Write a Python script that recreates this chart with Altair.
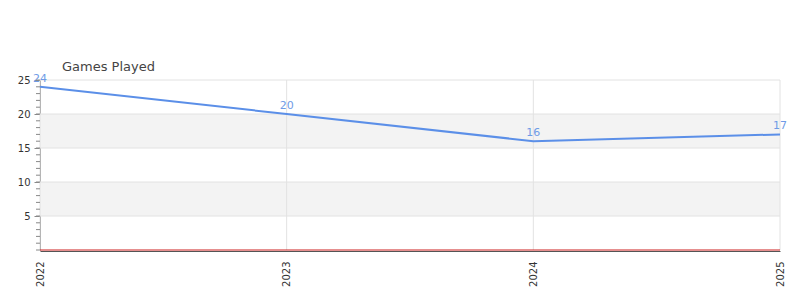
import altair as alt
import pandas as pd

years = [2022, 2023, 2024, 2025]
games = [24, 20, 16, 17]
band_lo = [5, 15]
band_hi = [10, 20]
major_ticks = [5, 10, 15, 20, 25]
minor_ticks = list(range(0, 26))

df = pd.DataFrame({"year": years, "games": games})
bands = pd.DataFrame({"lo": band_lo, "hi": band_hi})
zero = pd.DataFrame({"z": [0]})
minor = pd.DataFrame({"v": minor_ticks})
majors = pd.DataFrame({"v": major_ticks})

xscale = alt.Scale(domain=[2022, 2025], nice=False, zero=False)
yscale = alt.Scale(domain=[0, 25], nice=False)

xaxis = alt.Axis(values=years, format="d", labelAngle=-90, title=None,
                 grid=False, ticks=False, domainColor="#555",
                 labelColor="#333", labelFontSize=10, labelPadding=10,
                 labelFont="DejaVu Sans", offset=1)
yaxis = alt.Axis(values=major_ticks, title=None, grid=False, tickSize=6,
                 tickColor="#888", domainColor="#888", labelColor="#333",
                 labelFontSize=10, labelFont="DejaVu Sans", labelPadding=4)

band_layer = alt.Chart(bands).mark_rect(color="#f3f3f3").encode(
    y=alt.Y("lo:Q", scale=yscale, axis=yaxis),
    y2="hi:Q",
    x=alt.value(0),
    x2=alt.value(740),
)

grid_x = alt.Chart(df).mark_rule(color="#e2e2e2", strokeWidth=1).encode(
    x=alt.X("year:Q", scale=xscale, axis=xaxis),
)

grid_y = alt.Chart(majors).mark_rule(color="#e2e2e2", strokeWidth=1).encode(
    y=alt.Y("v:Q", scale=yscale, axis=yaxis),
)

minor_layer = alt.Chart(minor).mark_rule(color="#888", strokeWidth=1).encode(
    y=alt.Y("v:Q", scale=yscale, axis=yaxis),
    x=alt.value(-4),
    x2=alt.value(0),
)

zero_rule = alt.Chart(zero).mark_rule(color="#cc1f1f", strokeWidth=1).encode(
    y=alt.Y("z:Q", scale=yscale, axis=yaxis),
)

line = alt.Chart(df).mark_line(color="#5b8fe8", strokeWidth=2).encode(
    x=alt.X("year:Q", scale=xscale, axis=xaxis),
    y=alt.Y("games:Q", scale=yscale, axis=yaxis),
)

labels = alt.Chart(df).mark_text(color="#6f9be6", fontSize=11, dy=-8, font="DejaVu Sans").encode(
    x=alt.X("year:Q", scale=xscale, axis=xaxis),
    y=alt.Y("games:Q", scale=yscale, axis=yaxis),
    text=alt.Text("games:Q", format="d"),
)

chart = alt.layer(band_layer, grid_x, grid_y, minor_layer, zero_rule, line, labels).properties(
    width=740,
    height=170,
    autosize=alt.AutoSizeParams(type="none"),
    padding={"left": 40, "top": 80, "right": 20, "bottom": 50},
    title=alt.TitleParams("Games Played", anchor="start", frame="group", dx=22,
                          offset=-1, fontSize=13, fontWeight="normal", color="#444",
                          font="DejaVu Sans"),
).configure_view(stroke=None)

chart.save("out.html", embed_options={"renderer": "svg", "actions": False})
